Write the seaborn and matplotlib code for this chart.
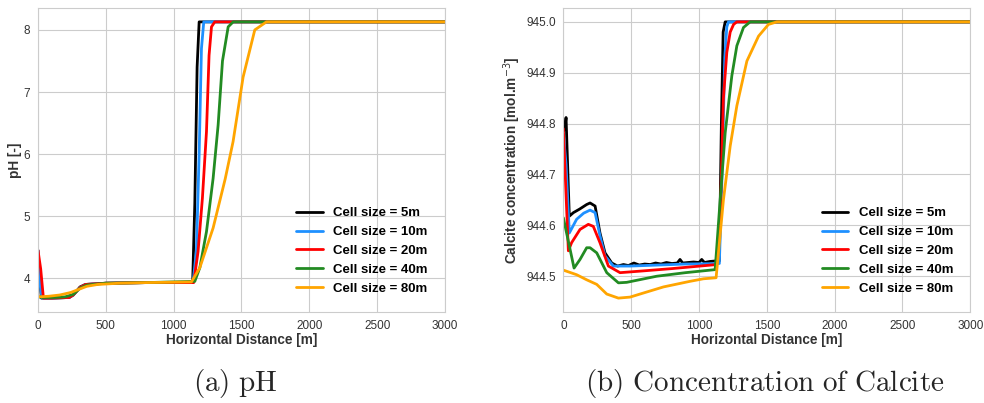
import numpy as np
import pandas as pd
import matplotlib
matplotlib.use("Agg")
import matplotlib.pyplot as plt
import seaborn as sns

# ---- data ----
labels = ["Cell size = 5m", "Cell size = 10m", "Cell size = 20m",
          "Cell size = 40m", "Cell size = 80m"]
colors = ["black", "#1E90FF", "#FF0000", "#228B22", "#FFA500"]

# pH profiles
ph_x_5 = [0, 10, 25, 100, 230, 260, 310, 350, 500, 800, 1140, 1156, 1173, 1188, 3000]
ph_y_5 = [4.45, 4.1, 3.68, 3.68, 3.69, 3.73, 3.86, 3.90, 3.92, 3.93, 3.93, 5.2, 7.4, 8.13, 8.13]

ph_x_10 = [0, 15, 30, 100, 230, 260, 310, 350, 500, 800, 1143, 1168, 1188, 1205, 1222, 3000]
ph_y_10 = [4.45, 3.9, 3.68, 3.68, 3.69, 3.73, 3.85, 3.90, 3.92, 3.93, 3.93, 4.45, 6.0, 7.7, 8.13, 8.13]

ph_x_20 = [0, 20, 40, 100, 230, 260, 310, 350, 500, 800, 1148, 1180, 1212, 1242, 1261, 1279, 1303, 3000]
ph_y_20 = [4.45, 4.15, 3.68, 3.68, 3.69, 3.73, 3.85, 3.90, 3.92, 3.93, 3.93, 4.43, 5.29, 6.36, 7.59, 8.05, 8.13, 8.13]

ph_x_40 = [0, 40, 120, 200, 260, 310, 360, 500, 800, 1156, 1193, 1242, 1291, 1328, 1360, 1402, 1439, 3000]
ph_y_40 = [3.70, 3.69, 3.69, 3.70, 3.74, 3.84, 3.89, 3.92, 3.93, 3.95, 4.17, 4.75, 5.61, 6.47, 7.50, 8.05, 8.13, 8.13]

ph_x_80 = [0, 80, 160, 240, 300, 360, 440, 600, 800, 1131, 1193, 1291, 1380, 1438, 1512, 1598, 1684, 3000]
ph_y_80 = [3.70, 3.71, 3.73, 3.77, 3.82, 3.87, 3.90, 3.92, 3.93, 3.94, 4.17, 4.81, 5.60, 6.20, 7.24, 8.00, 8.13, 8.13]

# Calcite concentration profiles [mol.m-3]
ca_x_5 = [0, 10, 20, 44, 74, 120, 172, 197, 234, 270, 307, 357, 400, 443, 480, 520, 560, 600,
          640, 680, 720, 760, 800, 840, 860, 880, 920, 960, 1000, 1020, 1040, 1080, 1120, 1150,
          1165, 1178, 1193, 3000]
ca_y_5 = [944.785, 944.79, 944.812, 944.618, 944.625, 944.632, 944.641, 944.644, 944.638,
          944.585, 944.546, 944.526, 944.520, 944.523, 944.521, 944.526, 944.522, 944.524,
          944.523, 944.526, 944.524, 944.527, 944.525, 944.526, 944.533, 944.526, 944.527,
          944.528, 944.527, 944.533, 944.527, 944.529, 944.530, 944.530, 944.8, 944.98, 945.0, 945.0]

ca_x_10 = [0, 20, 44, 98, 150, 197, 234, 270, 307, 369, 492, 700, 900, 1150, 1170, 1190, 1205, 1217, 3000]
ca_y_10 = [944.78, 944.72, 944.585, 944.612, 944.624, 944.630, 944.625, 944.58, 944.54,
           944.52, 944.520, 944.522, 944.524, 944.525, 944.7, 944.93, 944.99, 945.0, 945.0]

ca_x_20 = [0, 37, 61, 123, 184, 221, 270, 332, 418, 565, 800, 1131, 1155, 1180, 1205, 1230, 1255, 1279, 3000]
ca_y_20 = [944.79, 944.55, 944.566, 944.592, 944.602, 944.598, 944.566, 944.520, 944.507,
           944.510, 944.515, 944.523, 944.6, 944.85, 944.94, 944.98, 944.995, 945.0, 945.0]

ca_x_40 = [0, 79, 123, 172, 197, 246, 320, 406, 467, 688, 900, 1119, 1156, 1193, 1242, 1279, 1328, 1377, 3000]
ca_y_40 = [944.615, 944.516, 944.533, 944.556, 944.556, 944.546, 944.507, 944.487, 944.488,
           944.500, 944.507, 944.513, 944.650, 944.782, 944.894, 944.953, 944.989, 945.0, 945.0]

ca_x_80 = [0, 98, 172, 246, 320, 406, 492, 590, 738, 934, 1033, 1126, 1180, 1230, 1279, 1353, 1439, 1512, 1574, 3000]
ca_y_80 = [944.512, 944.503, 944.493, 944.484, 944.465, 944.457, 944.459, 944.467, 944.479,
           944.490, 944.495, 944.497, 944.650, 944.756, 944.835, 944.923, 944.972, 944.995, 945.0, 945.0]

ph_series = [(ph_x_5, ph_y_5), (ph_x_10, ph_y_10), (ph_x_20, ph_y_20),
             (ph_x_40, ph_y_40), (ph_x_80, ph_y_80)]
ca_series = [(ca_x_5, ca_y_5), (ca_x_10, ca_y_10), (ca_x_20, ca_y_20),
             (ca_x_40, ca_y_40), (ca_x_80, ca_y_80)]

# ---- style ----
sns.set_style("whitegrid")
plt.rcParams["font.family"] = ["Liberation Sans", "DejaVu Sans"]


def draw_panel(ax, series, ylabel, ylabel_x):
    for (xs, ys), lab, col in zip(series, labels, colors):
        df = pd.DataFrame({"x": xs, "y": ys})
        sns.lineplot(data=df, x="x", y="y", ax=ax, color=col, label=lab,
                     linewidth=2, sort=False)
    ax.set_xlim(0, 3000)
    ax.set_xlabel("Horizontal Distance [m]", fontsize=9.8, fontweight="bold",
                  labelpad=1, color="#333333")
    ax.set_ylabel(ylabel, fontsize=9.8, fontweight="bold", color="#333333")
    ax.yaxis.set_label_coords(ylabel_x, 0.5)
    ax.tick_params(labelsize=8.5, colors="#333333", pad=2)
    leg = ax.legend(loc="lower right", frameon=False, prop={"weight": "bold", "size": 9.5},
                    borderaxespad=0.9)
    for t in leg.get_texts():
        t.set_color("black")


fig = plt.figure(figsize=(9.84, 4.03), dpi=100)
ax1 = fig.add_axes([0.0386, 0.226, 0.4136, 0.754])
ax2 = fig.add_axes([0.5725, 0.226, 0.4136, 0.754])

draw_panel(ax1, ph_series, "pH [-]", -0.04)
draw_panel(ax2, ca_series, "Calcite concentration [mol.m$^{-3}$]", -0.1)
ax1.set_yticks([4, 5, 6, 7, 8])
ax2.set_yticks([944.5, 944.6, 944.7, 944.8, 944.9, 945.0])
ax2.yaxis.set_major_formatter(matplotlib.ticker.FormatStrFormatter("%.1f"))

fig.text(0.239, 0.048, r"$\mathrm{(a)\ pH}$", ha="center", va="center",
         fontsize=21, math_fontfamily="cm")
fig.text(0.777, 0.048, r"$\mathrm{(b)\ Concentration\ of\ Calcite}$", ha="center",
         va="center", fontsize=21, math_fontfamily="cm")

fig.savefig("out.png", dpi=100)
